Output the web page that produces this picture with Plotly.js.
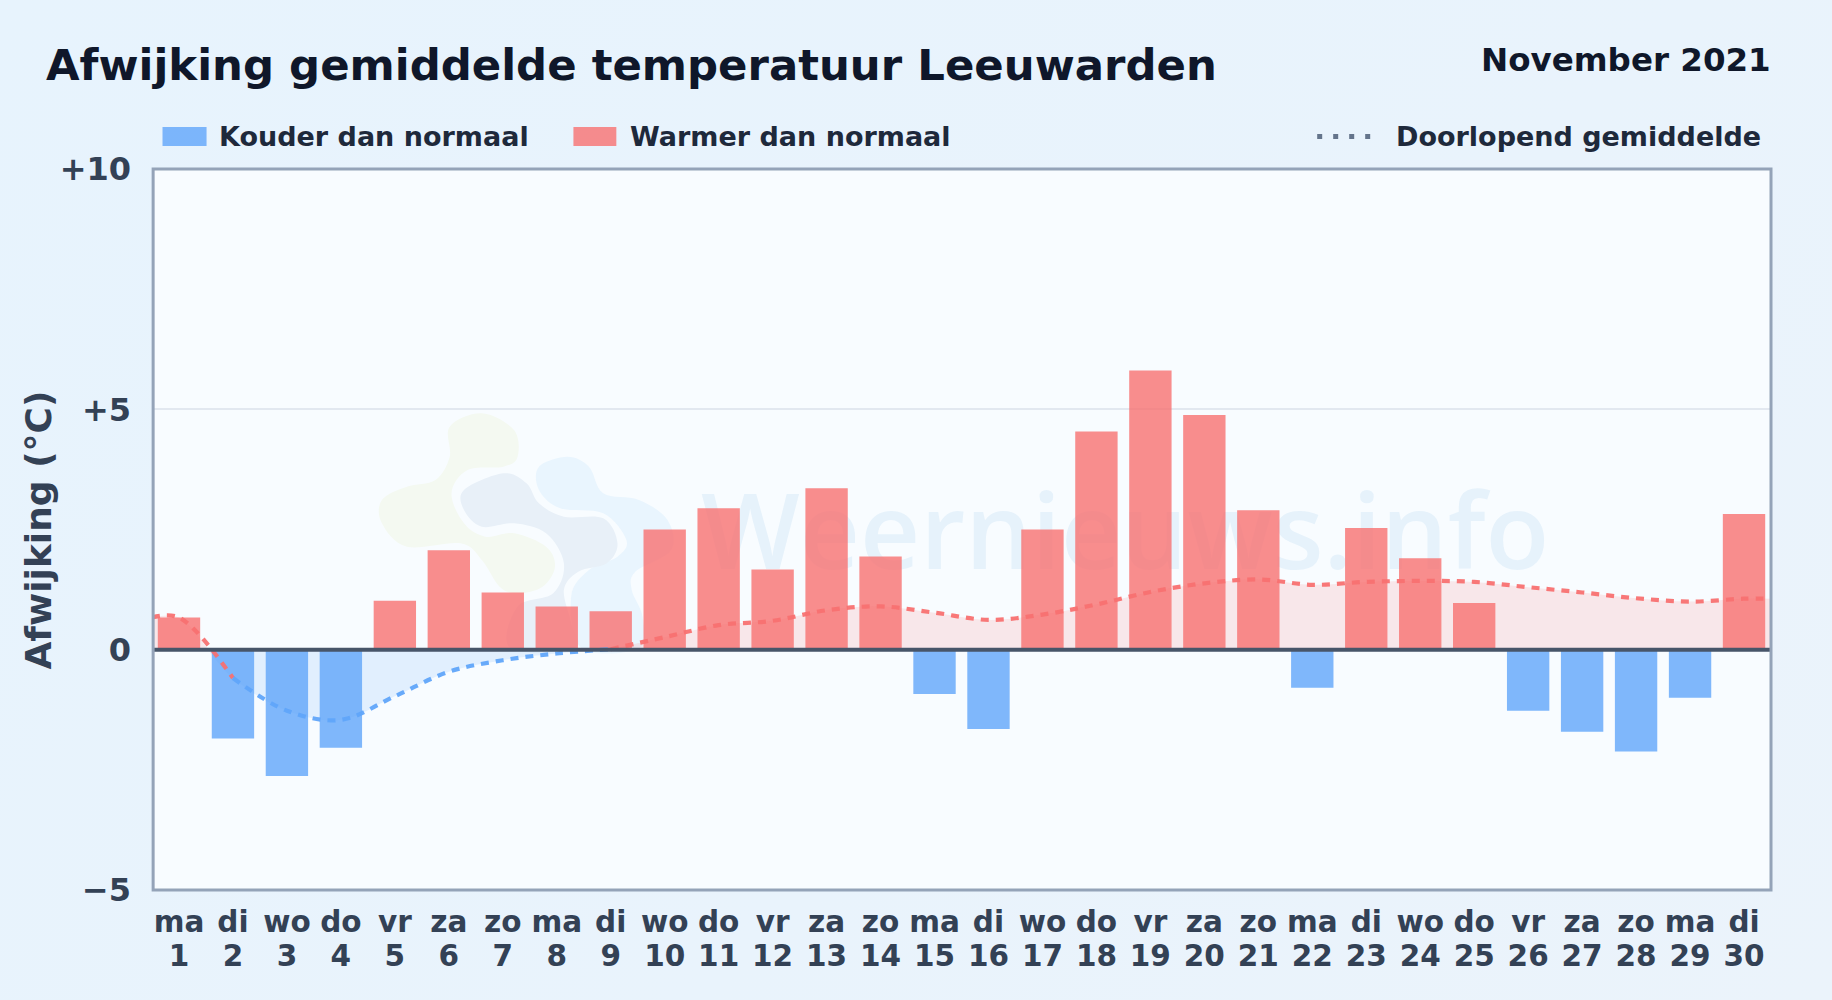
<!DOCTYPE html>
<html>
<head>
<meta charset="utf-8">
<script src="https://cdn.plot.ly/plotly-3.0.1.min.js"></script>
<style>
html,body{margin:0;padding:0;width:1832px;height:1000px;overflow:hidden;background:linear-gradient(135deg,#e7f3fd 0%,#e9f3fc 60%,#ebf3fb 100%);}
#chart{width:1832px;height:1000px;}
</style>
</head>
<body>
<div id="chart"></div>
<script>
var days = [1,2,3,4,5,6,7,8,9,10,11,12,13,14,15,16,17,18,19,20,21,22,23,24,25,26,27,28,29,30];
var weekdays = ['ma','di','wo','do','vr','za','zo','ma','di','wo','do','vr','za','zo','ma','di','wo','do','vr','za','zo','ma','di','wo','do','vr','za','zo','ma','di'];
var deviation = [0.67,-1.85,-2.63,-2.04,1.02,2.07,1.19,0.90,0.80,2.50,2.94,1.67,3.36,1.94,-0.92,-1.65,2.50,4.54,5.81,4.88,2.90,-0.79,2.53,1.90,0.97,-1.27,-1.71,-2.12,-1.00,2.82];
var runningMean = [0.67,-0.59,-1.27,-1.46,-0.97,-0.46,-0.22,-0.08,0.01,0.26,0.51,0.60,0.82,0.90,0.77,0.62,0.73,0.94,1.20,1.38,1.46,1.35,1.41,1.43,1.41,1.30,1.19,1.07,1.00,1.06];
var yTicks = [10,5,0,-5];
var yTickLabels = ['+10','+5','0','\u22125'];

var RED='#f87171', BLUE='#60a5fa';
var W=1832,H=1000,L=151.5,R=1771,T=169,B=890;
function px(x){return ((x-L)/(R-L)).toFixed(4);}
function py(y){return ((B-y)/(B-T)).toFixed(4);}

// soft watermark blobs, outline in zoom-space
function blob(pts){
  var P=pts.map(function(p){return [360+p[0]/2.8,390+p[1]/3];}),n=P.length,s='M'+px(P[0][0])+','+py(P[0][1]);
  for(var i=0;i<n;i++){
    var a=P[(i-1+n)%n],b=P[i],c=P[(i+1)%n],d=P[(i+2)%n];
    var c1=[b[0]+(c[0]-a[0])/6,b[1]+(c[1]-a[1])/6],c2=[c[0]-(d[0]-b[0])/6,c[1]-(d[1]-b[1])/6];
    s+=' C'+px(c1[0])+','+py(c1[1])+' '+px(c2[0])+','+py(c2[1])+' '+px(c[0])+','+py(c[1]);
  }
  return s+' Z';
}
function wm(pts,col){return {type:'path',xref:'paper',yref:'paper',layer:'below',path:blob(pts),fillcolor:col,line:{width:0}};}
var greenBlob=[[250,110],[340,70],[430,120],[440,200],[400,230],[300,240],[255,310],[290,400],[350,440],[430,430],[520,470],[545,530],[510,590],[440,610],[390,590],[340,510],[280,460],[130,470],[60,400],[60,330],[130,290],[210,270],[250,200]];
var grayBlob=[[290,300],[400,250],[465,280],[500,340],[570,380],[680,385],[720,460],[690,520],[610,545],[570,600],[590,700],[600,775],[420,775],[440,650],[540,610],[570,520],[520,430],[430,400],[340,410],[290,360]];
var skyBlob=[[500,230],[580,200],[640,230],[680,310],[780,330],[860,390],[870,480],[770,545],[760,600],[790,680],[780,775],[620,775],[590,620],[640,540],[720,500],[745,450],[680,370],[560,355],[500,300]];

function note(x,y,text,size,col,anchor){return {xref:'paper',yref:'paper',x:+px(x),y:+py(y),xanchor:anchor||'left',yanchor:'middle',showarrow:false,text:'<b>'+text+'</b>',font:{family:'DejaVu Sans',size:size,color:col}};}

var xEdgeL=0.5,xEdgeR=30.5,cross1=1.54;
var lineRedA={x:[xEdgeL].concat(days.slice(0,2)),y:[runningMean[0]].concat(runningMean.slice(0,2))};
var lineBlue={x:days.slice(1,9),y:runningMean.slice(1,9)};
var lineRedB={x:days.slice(8).concat([xEdgeR]),y:runningMean.slice(8).concat([runningMean[29]])};

function fillTrace(x,y,col){return {type:'scatter',mode:'lines',x:x,y:y,fill:'tozeroy',fillcolor:col,line:{width:0,shape:'spline',smoothing:1},hoverinfo:'skip',showlegend:false};}
function lineTrace(seg,col){return {type:'scatter',mode:'lines',x:seg.x,y:seg.y,line:{color:col,width:4.2,shape:'spline',smoothing:1,dash:'8px,7px'},opacity:0.95,hoverinfo:'skip',showlegend:false};}

var data=[
 {type:'bar',name:'Kouder dan normaal',x:days,y:deviation.map(function(v){return v<0?v:null;}),width:0.785,marker:{color:BLUE,opacity:0.8,line:{width:0}},showlegend:false},
 {type:'bar',name:'Warmer dan normaal',x:days,y:deviation.map(function(v){return v>=0?v:null;}),width:0.785,marker:{color:RED,opacity:0.8,line:{width:0}},showlegend:false},
 fillTrace([xEdgeL,1,cross1],[runningMean[0],runningMean[0],0],'rgba(248,113,113,0.15)'),
 fillTrace([cross1].concat(days.slice(1,9)),[0].concat(runningMean.slice(1,9)),'rgba(96,165,250,0.15)'),
 fillTrace(lineRedB.x,lineRedB.y,'rgba(248,113,113,0.15)'),
 lineTrace(lineRedA,RED),lineTrace(lineBlue,BLUE),lineTrace(lineRedB,RED),
 {type:'scatter',mode:'none',x:days,y:days.map(function(){return null;}),xaxis:'x2',hoverinfo:'skip',showlegend:false}
];

var layout={
 width:W,height:H,
 paper_bgcolor:'rgba(0,0,0,0)',plot_bgcolor:'#f8fcff',
 margin:{l:L,r:W-R,t:T,b:H-B,pad:0},
 barmode:'overlay',showlegend:false,
 font:{family:'DejaVu Sans',color:'#334155'},
 xaxis:{range:[0.5,30.5],tickmode:'array',tickvals:days,ticktext:weekdays.map(function(w){return '<b>'+w+'</b>';}),
   showgrid:false,zeroline:false,showline:false,ticks:'',ticklen:0,tickangle:0,ticklabelstandoff:11,
   tickfont:{family:'DejaVu Sans',size:29.5,color:'#334155'},automargin:false},
 xaxis2:{range:[0.5,30.5],overlaying:'x',side:'bottom',anchor:'y',tickmode:'array',tickvals:days,ticktext:days.map(function(d){return '<b>'+d+'</b>';}),
   showgrid:false,zeroline:false,showline:false,ticks:'',ticklen:0,tickangle:0,ticklabelstandoff:45,
   tickfont:{family:'DejaVu Sans',size:29.5,color:'#334155'},automargin:false},
 yaxis:{range:[-5,10],tickmode:'array',tickvals:yTicks,ticktext:yTickLabels.map(function(t){return '<b>'+t+'</b>';}),
   showgrid:true,gridcolor:'#e2e8f0',gridwidth:2,zeroline:false,showline:false,ticks:'',
   tickfont:{family:'DejaVu Sans',size:32,color:'#334155'},ticklabelstandoff:20,automargin:false},
 shapes:[
  wm(greenBlob,'#f4f9f1'),wm(skyBlob,'#e9f5fe'),wm(grayBlob,'#e8f0f8'),
  {type:'rect',xref:'paper',yref:'paper',layer:'below',x0:+px(700),x1:+px(1550),y0:+py(476),y1:+py(596),fillcolor:'rgba(0,0,0,0)',line:{width:0},
   label:{text:'Weernieuws.info',textposition:'middle center',font:{family:'Open Sans',weight:600,size:104.5,color:'rgba(60,140,210,0.09)'}}},
  {type:'line',xref:'paper',yref:'y',x0:0,x1:1,y0:0,y1:0,line:{color:'#475569',width:4},layer:'above'},
  {type:'rect',xref:'paper',yref:'paper',x0:+px(152.7),x1:1,y0:0,y1:1,fillcolor:'rgba(0,0,0,0)',line:{color:'#94a3b8',width:3},layer:'above'},
  {type:'rect',xref:'paper',yref:'paper',x0:+px(162),x1:+px(206),y0:+py(146),y1:+py(127),fillcolor:'rgba(96,165,250,0.8)',line:{width:0},layer:'above'},
  {type:'rect',xref:'paper',yref:'paper',x0:+px(573),x1:+px(616),y0:+py(146),y1:+py(127),fillcolor:'rgba(248,113,113,0.8)',line:{width:0},layer:'above'},
  {type:'line',xref:'paper',yref:'paper',x0:+px(1317),x1:+px(1375),y0:+py(136.5),y1:+py(136.5),line:{color:'#64748b',width:5,dash:'5px,11px'},layer:'above'}
 ],
 annotations:[
  note(44,65,'Afwijking gemiddelde temperatuur Leeuwarden',43.4,'#0f172a'),
  note(1773,60,'November 2021',32.5,'#0f172a','right'),
  note(216.5,137,'Kouder dan normaal',27,'#1e293b'),
  note(628,137,'Warmer dan normaal',27,'#1e293b'),
  note(1763,137,'Doorlopend gemiddelde',27,'#1e293b','right'),
  Object.assign(note(37,530,'Afwijking (\u00b0C)',36,'#334155','center'),{textangle:-90})
 ]
};
Plotly.newPlot('chart',data,layout,{displayModeBar:false,staticPlot:true});
</script>
</body>
</html>
